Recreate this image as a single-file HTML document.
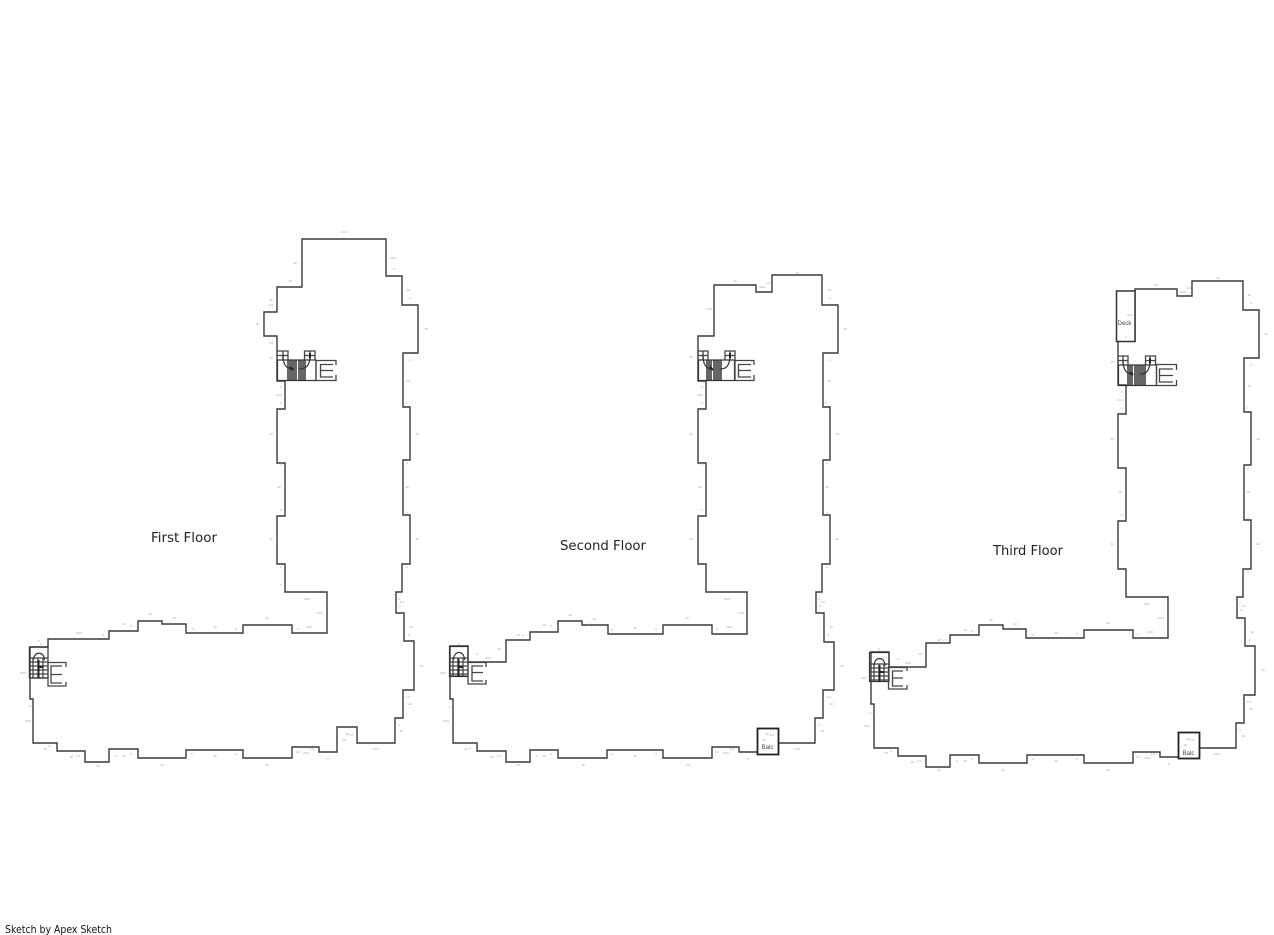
<!DOCTYPE html>
<html><head><meta charset="utf-8"><title>Sketch</title>
<style>
html,body{margin:0;padding:0;background:#fff;width:1274px;height:935px;overflow:hidden}
svg{display:block}
.o{fill:none;stroke:#3a3a3a;stroke-width:1.4}
.l{fill:none;stroke:#444;stroke-width:1.3}
.t{fill:none;stroke:#333;stroke-width:1.2}
.h{fill:none;stroke:#222;stroke-width:2}
.b{fill:#fff;stroke:#222;stroke-width:1.8}
.g{fill:#666}
.m text{font:3px "Liberation Sans",sans-serif;fill:#999;text-anchor:middle}
.f{font:13px "DejaVu Sans",sans-serif;fill:#222}
</style></head><body>
<svg width="1274" height="935" viewBox="0 0 1274 935" xmlns="http://www.w3.org/2000/svg">
<rect width="1274" height="935" fill="#fff"/>

<polygon class="o" points="302,239 386,239 386,276 402,276 402,305 418,305 418,353 403,353 403,407 410,407 410,460 403,460 403,515 410,515 410,564 402,564 402,592 396,592 396,613 404,613 404,641 414,641 414,690 403,690 403,718 395,718 395,743 357,743 357,727 337,727 337,752 319,752 319,747 292,747 292,758 243,758 243,750 186,750 186,758 138,758 138,749 109,749 109,762 85,762 85,751 57,751 57,743 33,743 33,699 30,699 30,647 48,647 48,639 109,639 109,631 138,631 138,621 162,621 162,624 186,624 186,633 243,633 243,625 292,625 292,633 327,633 327,592 285,592 285,564 277,564 277,516 285,516 285,463 277,463 277,409 285,409 285,381 277,381 277,336 264,336 264,312 277,312 277,287 302,287"/>

<polygon class="o" points="772,275 822,275 822,305 838,305 838,353 823,353 823,407 830,407 830,460 823,460 823,515 830,515 830,564 822,564 822,592 816,592 816,613 824,613 824,642 834,642 834,690 823,690 823,718 815,718 815,743 778,743 757,752 739,752 739,747 712,747 712,758 663,758 663,750 607,750 607,758 558,758 558,750 530,750 530,762 506,762 506,751 477,751 477,743 453,743 453,699 450,699 450,646 468,646 468,662 506,662 506,640 530,640 530,632 558,632 558,621 582,621 582,625 608,625 608,634 663,634 663,625 712,625 712,634 747,634 747,592 706,592 706,564 698,564 698,516 706,516 706,463 698,463 698,409 706,409 706,381 698,381 698,336 714,336 714,285 756,285 756,292 772,292"/>

<polygon class="o" points="1192,281 1243,281 1243,310 1259,310 1259,358 1244,358 1244,412 1251,412 1251,465 1244,465 1244,520 1251,520 1251,569 1243,569 1243,597 1237,597 1237,618 1245,618 1245,646 1255,646 1255,695 1244,695 1244,723 1236,723 1236,748 1199,748 1178,757 1160,757 1160,752 1133,752 1133,763 1084,763 1084,755 1027,755 1027,763 979,763 979,755 950,755 950,767 926,767 926,756 898,756 898,748 874,748 874,704 871,704 871,652 889,652 889,667 926,667 926,643 950,643 950,635 979,635 979,625 1003,625 1003,629 1026,629 1026,638 1084,638 1084,630 1133,630 1133,638 1168,638 1168,597 1126,597 1126,569 1118,569 1118,521 1126,521 1126,468 1118,468 1118,414 1126,414 1126,385 1118,385 1118,341 1135,341 1135,289 1177,289 1177,296 1192,296"/>

<!-- Balconies and deck -->
<rect class="b" x="757.5" y="728.5" width="21" height="26"/>
<rect class="b" x="1178.5" y="732.5" width="21" height="26"/>
<rect x="1116.5" y="291" width="18.5" height="50.5" fill="#fff" stroke="#333" stroke-width="1.5"/>
<text x="767.5" y="749" font-family="Liberation Sans,sans-serif" font-size="6" fill="#444" text-anchor="middle">Balc</text>
<text x="1188.5" y="755" font-family="Liberation Sans,sans-serif" font-size="6" fill="#444" text-anchor="middle">Balc</text>
<text x="1124.5" y="325" font-family="Liberation Sans,sans-serif" font-size="6" fill="#444" text-anchor="middle">Deck</text>

<!-- Upper stairs floor 1 -->
<g>
<rect x="287" y="360" width="10" height="20" class="g"/><rect x="298" y="360" width="8" height="20" class="g"/>
<rect class="t" x="277.5" y="360" width="38.5" height="20.5"/>
<path class="l" d="M277.5 351H288V360M277.5 355.5H288M283 351V360M304.500 360V351H315V360M304.500 355.500H315M310 351V360"/>
<path class="t" d="M283 355C283 366 287 369 294 369M310 355C310 366 306 369 299 369"/>
<path class="h" d="M290 367L293 370M310 353V358"/>
<path class="l" d="M336 365V360.500H316V380.500H336V375M333 364.500H320.500V377H333M320.500 370.500H333"/>
</g>
<!-- Upper stairs floor 2 -->
<g>
<rect x="706" y="360" width="6" height="20" class="g"/><rect x="713" y="360" width="9" height="20" class="g"/>
<rect class="t" x="698.500" y="360" width="36" height="20.500"/>
<path class="l" d="M698.500 351H708V360M698.500 355.500H708M703 351V360M725 360V351H735V360M725 355.500H735M730 351V360"/>
<path class="t" d="M703 355C703 366 707 369 713 369M730 355C730 366 726 369 720 369"/>
<path class="h" d="M710 367L713 370M730 353V358"/>
<path class="l" d="M754 365V360.500H735V380.500H754V375M751 364.500H738.500V377H751M738.500 370.500H751"/>
</g>
<!-- Upper stairs floor 3 -->
<g>
<rect x="1127" y="365" width="6" height="20" class="g"/><rect x="1134" y="365" width="12" height="20" class="g"/>
<rect class="t" x="1118.500" y="365" width="38" height="20.500"/>
<path class="l" d="M1118.500 356H1128V365M1118.500 360.500H1128M1123 356V365M1145.500 365V356H1155.500V365M1145.500 360.500H1155.500M1150 356V365"/>
<path class="t" d="M1123 360C1123 371 1127 374 1133 374M1150 360C1150 371 1146 374 1140 374"/>
<path class="h" d="M1130 372L1133 375M1150 358V363"/>
<path class="l" d="M1176.500 370V364.500H1156.500V385.500H1176.500V380M1173 369H1159.500V382H1173M1159.500 375.500H1173"/>
</g>

<!-- Lower stairs floor 1 -->
<g>
<path class="l" d="M29.500 658H48M29.500 662H48M29.500 666H48M29.500 670H48M29.500 674H48M29.500 678H48M33 658V678M38 658V678M43 658V678M29.500 647V678"/>
<rect class="t" x="29.500" y="647" width="18.500" height="31"/>
<path class="t" d="M33.500 660C33.500 651 44.500 651 44.500 660"/>
<path class="h" d="M38.500 660V678M38.500 667H43"/>
<path class="l" d="M66 667V662.500H48V686H66V682M62 666H51V683H62M51 674.500H62"/>
</g>
<!-- Lower stairs floor 2 -->
<g>
<path class="l" d="M449.500 658H468M449.500 662H468M449.500 666H468M449.500 670H468M449.500 674H468M449.500 676H468M453 658V676M458 658V676M463 658V676"/>
<rect class="t" x="449.500" y="646.500" width="18.500" height="30"/>
<path class="t" d="M453.500 660C453.500 650 464.500 650 464.500 660"/>
<path class="h" d="M458.500 659V677M458.500 667H463"/>
<path class="l" d="M486 667V662.500H468V684H486V680M483 666H472V681H483M472 672.500H483"/>
</g>
<!-- Lower stairs floor 3 -->
<g>
<path class="l" d="M869.500 664H889M869.500 668H889M869.500 672H889M869.500 676H889M869.500 680H889M874 664V681M879 664V681M884 664V681"/>
<rect class="t" x="869.500" y="652.500" width="19.500" height="29"/>
<path class="t" d="M874 666C874 656 885 656 885 666"/>
<path class="h" d="M879.500 665V682M879.500 672H884"/>
<path class="l" d="M907 671V667.500H888.500V689H907V685M903 671H892.500V686H903M892.500 678H903"/>
</g>

<!-- Dimension labels floor 1 -->
<g class="m">
<text x="344" y="233">10.0</text><text x="393" y="259">10.0</text><text x="394" y="270">2</text><text x="408" y="291">10</text><text x="410" y="299">2</text><text x="426" y="330">10</text><text x="410" y="361">2</text><text x="408" y="382">10</text><text x="406" y="404">2</text>
<text x="295" y="264">10</text><text x="290" y="282">10</text><text x="271" y="301">10</text><text x="271" y="306">1.0</text><text x="257" y="325">10</text><text x="271" y="344">1.0</text><text x="271" y="359">10</text><text x="281" y="388">2</text><text x="279" y="396">10.0</text><text x="281" y="404">2</text>
<text x="271" y="435">10</text><text x="417" y="435">10</text><text x="281" y="465">2</text><text x="279" y="488">10</text><text x="281" y="511">2</text><text x="271" y="540">10</text><text x="407" y="464">2</text><text x="407" y="488">10</text><text x="407" y="514">2</text><text x="417" y="540">10</text><text x="407" y="568">2</text><text x="281" y="568">2</text><text x="281" y="586">2</text>
<text x="150" y="615">10</text><text x="174" y="619">10</text><text x="124" y="625">10</text><text x="131" y="627">2</text><text x="169" y="624">2</text><text x="193" y="630">2</text><text x="215" y="628">10</text><text x="79" y="634">10.0</text><text x="103" y="636">2</text><text x="39" y="642">2</text><text x="41" y="645">2</text><text x="23" y="674">10.0</text><text x="31" y="707">1.0</text><text x="28" y="722">10.0</text>
<text x="49" y="747">2</text><text x="45" y="750">10</text><text x="71" y="758">10</text><text x="78" y="757">1.0</text><text x="98" y="767">10</text><text x="116" y="757">2</text><text x="124" y="757">10</text><text x="131" y="755">2</text><text x="162" y="766">10</text><text x="192" y="755">2</text><text x="215" y="757">10</text>
<text x="307" y="600">10.0</text><text x="320" y="614">10.0</text><text x="309" y="628">10.0</text><text x="298" y="630">2</text><text x="267" y="619">10</text><text x="236" y="630">2</text><text x="236" y="755">2</text><text x="267" y="766">10</text><text x="298" y="753">1.0</text><text x="306" y="754">10.0</text><text x="312" y="750">1.0</text><text x="328" y="760">2</text><text x="347" y="735">10</text><text x="351" y="736">1.0</text><text x="344" y="741">10</text><text x="376" y="750">10.0</text><text x="399" y="726">2</text><text x="401" y="732">10</text><text x="408" y="698">1.0</text><text x="410" y="705">10</text><text x="421" y="667">10</text><text x="411" y="628">10</text><text x="409" y="636">2</text><text x="399" y="600">2</text><text x="402" y="603">1.0</text><text x="400" y="607">2</text>
</g>

<!-- Dimension labels floor 2 -->
<g class="m">
<text x="797" y="274">10</text><text x="735" y="282">10</text><text x="768" y="284">1.0</text><text x="762" y="288">10.0</text><text x="709" y="310">10.0</text><text x="706" y="333">2</text><text x="829" y="291">10</text><text x="830" y="299">2</text><text x="845" y="330">10</text><text x="830" y="361">2</text><text x="829" y="382">10</text><text x="826" y="404">2</text><text x="691" y="358">10</text><text x="702" y="388">2</text><text x="700" y="396">10.0</text><text x="702" y="404">2</text>
<text x="691" y="435">10</text><text x="837" y="435">10</text><text x="702" y="465">2</text><text x="700" y="488">10</text><text x="702" y="511">2</text><text x="691" y="540">10</text><text x="827" y="464">2</text><text x="827" y="488">10</text><text x="827" y="514">2</text><text x="837" y="540">10</text><text x="827" y="568">2</text>
<text x="570" y="616">10</text><text x="594" y="620">10</text><text x="544" y="626">10</text><text x="551" y="627">2</text><text x="589" y="625">2</text><text x="612" y="631">2</text><text x="635" y="629">10</text><text x="518" y="636">10</text><text x="523" y="636">2</text><text x="499" y="650">10</text><text x="477" y="655">2</text><text x="488" y="659">10.0</text><text x="459" y="645">2</text><text x="443" y="674">10.0</text><text x="451" y="708">1.0</text><text x="446" y="722">10.0</text>
<text x="470" y="749">2</text><text x="466" y="750">10</text><text x="492" y="758">10</text><text x="499" y="757">1.0</text><text x="518" y="766">10</text><text x="537" y="757">2</text><text x="544" y="757">10</text><text x="551" y="755">2</text><text x="583" y="766">10</text><text x="612" y="755">2</text><text x="635" y="757">10</text>
<text x="727" y="600">10.0</text><text x="741" y="614">10.0</text><text x="729" y="628">10.0</text><text x="717" y="630">2</text><text x="687" y="619">10</text><text x="656" y="630">2</text><text x="656" y="755">2</text><text x="688" y="766">10</text><text x="717" y="753">1.0</text><text x="726" y="754">10.0</text><text x="732" y="750">1.0</text><text x="748" y="760">2</text><text x="767" y="735">10</text><text x="772" y="736">1.0</text><text x="764" y="741">10</text><text x="797" y="750">10.0</text><text x="819" y="726">2</text><text x="822" y="732">10</text><text x="829" y="698">1.0</text><text x="831" y="705">10</text><text x="842" y="667">10</text><text x="831" y="628">10</text><text x="829" y="636">2</text><text x="819" y="600">2</text><text x="823" y="603">1.0</text><text x="820" y="607">2</text>
</g>

<!-- Dimension labels floor 3 -->
<g class="m">
<text x="1218" y="279">10</text><text x="1156" y="286">10</text><text x="1189" y="289">1.0</text><text x="1183" y="293">10.0</text><text x="1130" y="316">10.0</text><text x="1126" y="338">2</text><text x="1249" y="296">10</text><text x="1251" y="304">2</text><text x="1266" y="335">10</text><text x="1251" y="366">2</text><text x="1249" y="387">10</text><text x="1247" y="409">2</text><text x="1112" y="363">10</text><text x="1122" y="393">2</text><text x="1120" y="401">10.0</text><text x="1122" y="409">2</text>
<text x="1112" y="440">10</text><text x="1258" y="440">10</text><text x="1122" y="470">2</text><text x="1120" y="493">10</text><text x="1122" y="516">2</text><text x="1112" y="545">10</text><text x="1248" y="469">2</text><text x="1248" y="493">10</text><text x="1248" y="519">2</text><text x="1258" y="545">10</text><text x="1248" y="573">2</text>
<text x="991" y="621">10</text><text x="1015" y="625">10</text><text x="965" y="631">10</text><text x="972" y="632">2</text><text x="1010" y="630">2</text><text x="1033" y="636">2</text><text x="1056" y="634">10</text><text x="939" y="641">10</text><text x="944" y="641">2</text><text x="920" y="655">10</text><text x="898" y="660">2</text><text x="908" y="664">10.0</text><text x="879" y="650">2</text><text x="864" y="679">10.0</text><text x="872" y="714">1.0</text><text x="867" y="727">10.0</text>
<text x="891" y="752">2</text><text x="886" y="754">10</text><text x="912" y="763">10</text><text x="919" y="762">1.0</text><text x="939" y="771">10</text><text x="957" y="762">2</text><text x="965" y="762">10</text><text x="972" y="760">2</text><text x="1003" y="771">10</text><text x="1033" y="760">2</text><text x="1056" y="762">10</text>
<text x="1147" y="605">10.0</text><text x="1161" y="619">10.0</text><text x="1150" y="633">10.0</text><text x="1138" y="635">2</text><text x="1108" y="624">10</text><text x="1077" y="635">2</text><text x="1077" y="760">2</text><text x="1108" y="771">10</text><text x="1138" y="758">1.0</text><text x="1147" y="759">10.0</text><text x="1153" y="755">1.0</text><text x="1169" y="765">2</text><text x="1188" y="740">10</text><text x="1192" y="741">1.0</text><text x="1185" y="746">10</text><text x="1217" y="755">10.0</text><text x="1240" y="731">2</text><text x="1243" y="737">10</text><text x="1249" y="703">1.0</text><text x="1251" y="710">10</text><text x="1263" y="671">10</text><text x="1252" y="633">10</text><text x="1250" y="641">2</text><text x="1240" y="604">2</text><text x="1244" y="607">1.0</text><text x="1241" y="611">2</text>
</g>

<text class="f" x="151" y="542" textLength="66" lengthAdjust="spacingAndGlyphs">First Floor</text>
<text class="f" x="560" y="550" textLength="86" lengthAdjust="spacingAndGlyphs">Second Floor</text>
<text class="f" x="993" y="555" textLength="70" lengthAdjust="spacingAndGlyphs">Third Floor</text>
<text x="5" y="933" font-family="DejaVu Sans,sans-serif" font-size="10.5" fill="#111" textLength="107" lengthAdjust="spacingAndGlyphs">Sketch by Apex Sketch</text>
</svg>
</body></html>
